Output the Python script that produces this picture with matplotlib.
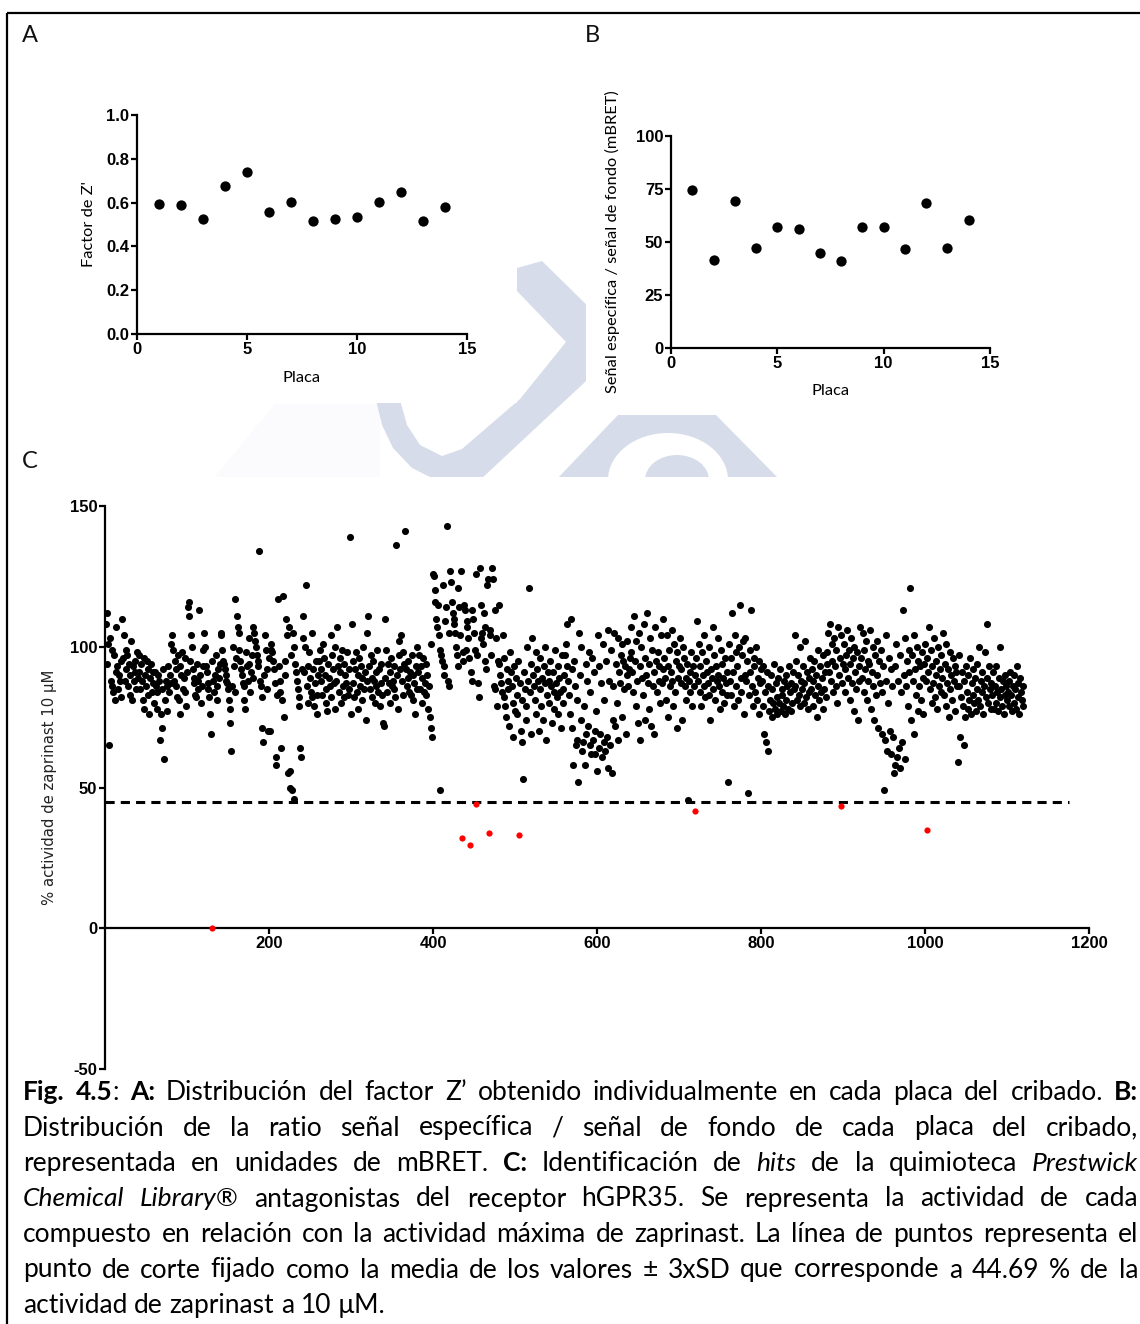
import re
import numpy as np
import matplotlib
matplotlib.use("Agg")
import matplotlib.pyplot as plt
from matplotlib.patches import Polygon, Rectangle, Ellipse

plt.rcParams["axes.unicode_minus"] = False
plt.rcParams["font.family"] = ["Liberation Sans", "DejaVu Sans"]

# ---- panel A / B : one value per screening plate
PLATES = [1, 2, 3, 4, 5, 6, 7, 8, 9, 10, 11, 12, 13, 14]
Z_FACTOR = [0.594, 0.59, 0.526, 0.678, 0.74, 0.556, 0.603, 0.517, 0.523, 0.533, 0.603, 0.649, 0.514, 0.582]
SIGNAL_BG = [74.7, 41.6, 69.4, 47.1, 57.1, 55.9, 44.9, 41.1, 57.3, 57.3, 46.5, 68.3, 47.4, 60.6]

# ---- panel C : % zaprinast activity of each compound, 80 compounds per plate
PLATE_01 = [108, 112, 94, 101, 65, 103, 88, 86, 99, 84, 97, 81, 91, 107, 93, 85, 90, 88, 95, 82,
            110, 96, 104, 88, 99, 92, 97, 86, 94, 83, 90, 102, 81, 93, 88, 95, 91, 85, 98, 89,
            97, 91, 85, 94, 88, 81, 96, 78, 90, 86, 95, 92, 83, 76, 89, 94, 84, 91, 87, 80,
            91, 86, 84, 78, 90, 88, 67, 76, 85, 71, 92, 60, 81, 88, 86, 77, 93, 84, 90, 87]
PLATE_02 = [101, 104, 99, 88, 95, 92, 86, 82, 97, 81, 93, 76, 90, 98, 85, 89, 96, 84, 79, 91,
            114, 111, 116, 95, 104, 100, 92, 87, 89, 83, 82, 94, 88, 85, 113, 90, 80, 86, 99, 93,
            105, 100, 93, 91, 87, 85, 82, 76, 69, 0, 95, 88, 84, 90, 97, 81, 86, 92, 89, 94,
            105, 104, 99, 95, 94, 92, 90, 88, 87, 85, 81, 78, 73, 63, 86, 100, 93, 84, 117, 96]
PLATE_03 = [111, 107, 105, 99, 95, 92, 90, 87, 86, 81, 78, 98, 93, 88, 103, 94, 84, 91, 97, 89,
            107, 105, 102, 100, 97, 95, 93, 134, 88, 86, 82, 71, 66, 90, 104, 99, 92, 85, 70, 96,
            70, 101, 99, 98, 95, 92, 87, 61, 58, 83, 117, 93, 84, 88, 64, 81, 118, 75, 95, 90,
            110, 104, 55, 107, 50, 56, 97, 49, 105, 46, 100, 94, 91, 88, 85, 82, 79, 64, 61, 92]
PLATE_04 = [103, 111, 91, 100, 122, 86, 93, 80, 98, 89, 84, 105, 82, 92, 79, 87, 95, 83, 76, 90,
            95, 99, 92, 88, 83, 101, 96, 90, 85, 80, 77, 94, 89, 86, 82, 104, 97, 92, 87, 78,
            100, 88, 107, 93, 84, 96, 91, 80, 99, 86, 94, 82, 90, 87, 98, 83, 92, 85, 139, 76,
            108, 87, 95, 82, 92, 98, 84, 90, 78, 96, 86, 93, 81, 89, 100, 85, 91, 74, 105, 88]
PLATE_05 = [111, 93, 85, 97, 89, 82, 95, 88, 80, 91, 86, 99, 84, 92, 79, 87, 94, 83, 73, 72,
            110, 89, 99, 84, 94, 87, 91, 80, 96, 86, 88, 93, 85, 82, 136, 90, 78, 97, 102, 92,
            104, 88, 98, 83, 94, 141, 92, 86, 89, 95, 84, 91, 83, 97, 81, 90, 87, 76, 93, 85,
            100, 91, 97, 85, 93, 80, 89, 96, 84, 87, 94, 83, 90, 78, 86, 75, 71, 101, 68, 126]
PLATE_06 = [125, 120, 116, 110, 107, 115, 104, 49, 99, 97, 95, 122, 93, 90, 109, 114, 143, 88, 86, 105,
            127, 123, 116, 112, 110, 108, 105, 100, 97, 93, 121, 114, 104, 127, 32, 98, 95, 115, 113, 99,
            107, 109, 103, 96, 29.5, 91, 88, 113, 110, 105, 99, 126, 44, 97, 87, 82, 128, 115, 103, 105,
            101, 112, 107, 95, 92, 122, 124, 34, 106, 104, 97, 128, 124, 86, 85, 113, 103, 79, 95, 115]
PLATE_07 = [94, 90, 87, 84, 104, 82, 96, 79, 75, 92, 88, 85, 72, 98, 91, 86, 68, 80, 93, 77,
            89, 83, 76, 95, 33, 87, 70, 81, 66, 53, 91, 85, 79, 74, 100, 88, 121, 84, 69, 94,
            103, 90, 86, 81, 98, 76, 92, 88, 70, 85, 96, 79, 89, 74, 93, 87, 100, 67, 83, 91,
            88, 80, 95, 86, 73, 91, 84, 78, 99, 87, 82, 93, 76, 89, 84, 71, 97, 85, 80, 90]
PLATE_08 = [97, 101, 108, 93, 88, 83, 76, 110, 92, 71, 58, 95, 86, 65, 67, 81, 52, 105, 90, 74,
            100, 63, 66, 79, 58, 94, 69, 88, 72, 98, 65, 84, 62, 96, 67, 91, 70, 62, 77, 56,
            104, 64, 93, 69, 87, 61, 101, 66, 81, 63, 95, 68, 106, 57, 88, 65, 99, 55, 74, 86,
            105, 72, 94, 80, 103, 67, 91, 87, 97, 75, 101, 95, 85, 93, 69, 90, 102, 86, 92, 96]
PLATE_09 = [98, 107, 91, 84, 111, 95, 79, 102, 88, 73, 105, 93, 67, 100, 89, 83, 108, 96, 74, 90,
            112, 87, 94, 78, 103, 72, 99, 86, 91, 69, 107, 95, 84, 98, 88, 93, 80, 104, 87, 92,
            110, 96, 89, 81, 104, 93, 75, 99, 86, 91, 106, 88, 79, 101, 84, 95, 71, 98, 89, 93,
            103, 87, 92, 74, 100, 96, 86, 89, 81, 94, 45.5, 88, 91, 84, 98, 79, 93, 86, 90, 41.5]
PLATE_10 = [96, 109, 88, 101, 84, 93, 79, 98, 90, 86, 104, 82, 95, 91, 87, 100, 83, 74, 92, 89,
            107, 85, 97, 81, 93, 88, 103, 90, 86, 78, 99, 84, 94, 89, 80, 96, 87, 83, 91, 52,
            101, 88, 96, 83, 112, 91, 79, 104, 86, 98, 93, 81, 100, 115, 89, 84, 97, 102, 76, 90,
            103, 88, 95, 48, 83, 99, 91, 113, 86, 79, 96, 93, 84, 100, 81, 89, 76, 95, 87, 92]
PLATE_11 = [88, 79, 93, 69, 84, 66, 91, 63, 86, 77, 81, 90, 75, 85, 80, 94, 78, 87, 82, 76,
            89, 80, 92, 77, 85, 83, 79, 88, 76, 90, 81, 86, 78, 93, 84, 77, 87, 80, 91, 85,
            104, 86, 95, 81, 90, 83, 100, 79, 88, 85, 93, 80, 87, 102, 82, 91, 78, 89, 84, 96,
            85, 92, 79, 88, 95, 83, 90, 75, 86, 99, 81, 93, 84, 89, 78, 97, 85, 91, 82, 94]
PLATE_12 = [98, 105, 91, 108, 88, 101, 95, 84, 103, 93, 86, 99, 80, 107, 90, 96, 43.6, 104, 87, 94,
            101, 92, 84, 97, 106, 89, 99, 81, 94, 103, 87, 96, 77, 100, 91, 85, 98, 74, 93, 88,
            107, 96, 89, 105, 84, 99, 92, 102, 81, 95, 88, 94, 106, 78, 91, 86, 100, 74, 97, 83,
            90, 102, 71, 95, 87, 99, 69, 84, 93, 49, 67, 104, 88, 63, 80, 96, 70, 92, 62, 86]
PLATE_13 = [68, 55, 93, 58, 101, 61, 88, 64, 97, 57, 84, 66, 113, 90, 60, 103, 86, 95, 79, 99,
            91, 121, 74, 97, 88, 104, 69, 92, 83, 100, 77, 95, 86, 93, 81, 98, 89, 76, 94, 101,
            88, 96, 35, 91, 107, 85, 99, 80, 93, 87, 103, 82, 95, 90, 78, 100, 86, 92, 84, 97,
            89, 105, 83, 94, 79, 101, 87, 92, 75, 98, 85, 90, 81, 96, 88, 93, 77, 91, 86, 59]
PLATE_14 = [86, 97, 68, 82, 91, 79, 65, 88, 75, 93, 84, 78, 90, 81, 96, 76, 87, 83, 92, 80,
            89, 77, 94, 85, 81, 100, 79, 88, 84, 91, 76, 86, 98, 82, 89, 108, 80, 93, 85, 78,
            87, 83, 91, 78, 86, 80, 93, 84, 77, 89, 82, 100, 85, 79, 88, 76, 90, 83, 86, 81,
            84, 88, 79, 91, 83, 77, 86, 90, 80, 85, 78, 93, 82, 87, 76, 89, 84, 81, 86, 79]

CUTOFF = 44.69  # mean - 3xSD

CAPTION = [
    "[b|Fig.] [b|4.5]: [b|A:] Distribución del factor Z’ obtenido individualmente en cada placa del cribado. [b|B:]",
    "Distribución de la ratio señal específica / señal de fondo de cada placa del cribado,",
    "representada en unidades de mBRET. [b|C:] Identificación de [i|hits] de la quimioteca [i|Prestwick]",
    "[i|Chemical] [i|Library®] antagonistas del receptor hGPR35. Se representa la actividad de cada",
    "compuesto en relación con la actividad máxima de zaprinast. La línea de puntos representa el",
    "punto de corte fijado como la media de los valores ± 3xSD que corresponde a 44.69 % de la",
    "actividad de zaprinast a 10 µM.",
]

W, H = 1140, 1324
fig = plt.figure(figsize=(W / 100, H / 100), dpi=100)

# background layer in pixel coordinates (watermark, white image boxes, frame)
bg = fig.add_axes([0, 0, 1, 1], zorder=-1)
bg.set_xlim(0, W)
bg.set_ylim(H, 0)
bg.axis("off")

wm = "#d6dce9"
bg.add_patch(Polygon([(212, 480), (275, 404), (380, 404), (380, 480)], color="#fbfbfd", lw=0))
bg.add_patch(Polygon([(517, 268), (542, 261), (600, 318), (600, 368), (480, 480), (436, 480),
                      (412, 468), (393, 448), (382, 425), (376, 400), (400, 400), (407, 425),
                      (420, 445), (442, 456), (462, 449), (520, 399), (566, 342), (517, 291)],
                     color=wm, lw=0))
bg.add_patch(Polygon([(556, 480), (618, 415), (716, 415), (780, 480)], color=wm, lw=0))
bg.add_patch(Ellipse((668, 480), 120, 94, color="white", lw=0))
bg.add_patch(Ellipse((677, 480), 64, 50, color=wm, lw=0))

for x0, y0, x1, y1 in [(8, 14, 517, 403), (586, 14, W, 415), (8, 477, W, 1078)]:
    bg.add_patch(Rectangle((x0, y0), x1 - x0, y1 - y0, color="white", lw=0))

bg.plot([7, W], [13, 13], color="black", lw=1.6, solid_capstyle="butt")
bg.plot([7, 7], [13, H], color="black", lw=1.6, solid_capstyle="butt")

for letter, (lx, ly) in zip("ABC", [(22, 42), (585, 42), (22, 468)]):
    bg.text(lx, ly, letter, fontsize=17, family=["Lato", "DejaVu Sans"],
            va="baseline", ha="left", color="#111111")


def prism_style(ax):
    for side in ("top", "right"):
        ax.spines[side].set_visible(False)
    for side in ("left", "bottom"):
        ax.spines[side].set_linewidth(1.6)
    ax.tick_params(direction="out", length=4, width=1.6, labelsize=12, pad=1.5)
    ax.set_facecolor("none")
    for lab in ax.get_xticklabels() + ax.get_yticklabels():
        lab.set_fontweight("bold")


label_font = dict(fontsize=11.8, family=["Lato", "DejaVu Sans"])

# ---- A
ax_a = fig.add_axes([137 / W, 1 - 334 / H, 330 / W, 219 / H])
ax_a.scatter(PLATES, Z_FACTOR, s=55, color="black", lw=0, clip_on=False, zorder=3)
ax_a.set_xlim(0, 15)
ax_a.set_ylim(0, 1.0)
ax_a.set_xticks([0, 5, 10, 15])
ax_a.set_yticks([0, 0.2, 0.4, 0.6, 0.8, 1.0])
ax_a.set_yticklabels(["0.0", "0.2", "0.4", "0.6", "0.8", "1.0"])
prism_style(ax_a)
ax_a.set_ylabel("Factor de Z'", va="center", **label_font)
ax_a.yaxis.set_label_coords(-0.146, 0.5)
ax_a.set_xlabel("Placa", va="center", **label_font)
ax_a.xaxis.set_label_coords(0.5, -0.2)

# ---- B
ax_b = fig.add_axes([671 / W, 1 - 348 / H, 319 / W, 212 / H])
ax_b.scatter(PLATES, SIGNAL_BG, s=55, color="black", lw=0, clip_on=False, zorder=3)
ax_b.set_xlim(0, 15)
ax_b.set_ylim(0, 100)
ax_b.set_xticks([0, 5, 10, 15])
ax_b.set_yticks([0, 25, 50, 75, 100])
prism_style(ax_b)
ax_b.set_ylabel("Señal específica / señal de fondo (mBRET)", va="center", **label_font)
ax_b.yaxis.set_label_coords(-0.185, 0.5)
ax_b.set_xlabel("Placa", va="center", **label_font)
ax_b.xaxis.set_label_coords(0.5, -0.203)

# ---- C
plates = [PLATE_01, PLATE_02, PLATE_03, PLATE_04, PLATE_05, PLATE_06, PLATE_07,
          PLATE_08, PLATE_09, PLATE_10, PLATE_11, PLATE_12, PLATE_13, PLATE_14]
for p in plates:
    assert len(p) == 80, len(p)
activity = np.concatenate([np.array(p, dtype=float) for p in plates])
compound = np.arange(1, len(activity) + 1)
hit = activity < CUTOFF

ax_c = fig.add_axes([105 / W, 1 - 1069 / H, 984 / W, 563 / H])
ax_c.scatter(compound[~hit], activity[~hit], s=26, color="black", lw=0, zorder=3)
ax_c.scatter(compound[hit], activity[hit], s=20, color="#ff0000", lw=0, zorder=4, clip_on=False)
ax_c.hlines(CUTOFF, 0, 1175, colors="black", lw=2.2, linestyles=(0, (3, 2)), zorder=2)
ax_c.set_xlim(0, 1200)
ax_c.set_ylim(-50, 150)
ax_c.spines["bottom"].set_position(("data", 0))
ax_c.set_xticks([200, 400, 600, 800, 1000, 1200])
ax_c.set_yticks([-50, 0, 50, 100, 150])
prism_style(ax_c)
ax_c.set_ylabel("% actividad de zaprinast 10 µM", va="center", fontsize=10.7,
                family=["DejaVu Sans"], color="#222222")
ax_c.yaxis.set_label_coords(-0.056, 0.5)

# ---- caption, justified between two margins
cap_font = ["Lato", "DejaVu Sans"]
cap_size = 19
styles = {"n": {}, "b": {"fontweight": "bold"}, "i": {"fontstyle": "italic"}}
left, right = 23, 1138
baselines = [1100, 1135.5, 1171, 1206.5, 1242, 1277.5, 1313]
renderer = fig.canvas.get_renderer()


def width_of(t):
    return t.get_window_extent(renderer).width


probe = bg.text(0, 0, "xx", fontsize=cap_size, family=cap_font)
probe2 = bg.text(0, 0, "x x", fontsize=cap_size, family=cap_font)
space = width_of(probe2) - width_of(probe)
probe.remove()
probe2.remove()

for k, line in enumerate(CAPTION):
    words = []
    for token in line.split(" "):
        segs = []
        for st, txt, plain in re.findall(r"\[(b|i)\|([^\]]+)\]|([^\[]+)", token):
            kind = st if st else "n"
            s = txt if st else plain
            t = bg.text(0, baselines[k], s, fontsize=cap_size, family=cap_font,
                        va="baseline", ha="left", **styles[kind])
            segs.append((t, width_of(t)))
        words.append(segs)
    widths = [sum(w for _, w in segs) for segs in words]
    if k < len(CAPTION) - 1:
        gap = (right - left - sum(widths)) / (len(words) - 1)
    else:
        gap = space
    x = left
    for segs, ww in zip(words, widths):
        xx = x
        for t, w in segs:
            t.set_x(xx)
            xx += w
        x += ww + gap

fig.savefig("out.png", dpi=100)
